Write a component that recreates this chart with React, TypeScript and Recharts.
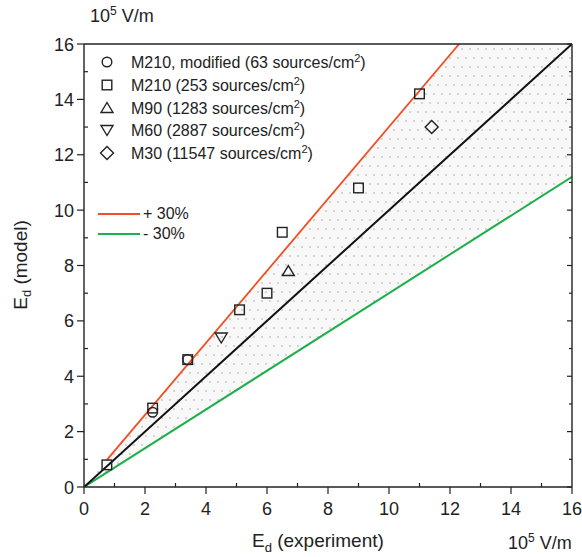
import React from 'react';
import { ComposedChart, XAxis, YAxis, Line, Area, Scatter } from 'recharts';

const allTicks = [0, 1, 2, 3, 4, 5, 6, 7, 8, 9, 10, 11, 12, 13, 14, 15, 16];

// measured points (10^5 V/m)
const m210ModX = [2.25, 3.4];
const m210ModY = [2.7, 4.6];
const m210X = [0.75, 2.25, 3.4, 5.1, 6.0, 6.5, 9.0, 11.0];
const m210Y = [0.8, 2.85, 4.6, 6.4, 7.0, 9.2, 10.8, 14.2];
const m90X = [6.7];
const m90Y = [7.8];
const m60X = [4.5];
const m60Y = [5.4];
const m30X = [11.4];
const m30Y = [13.0];

// guide lines
const identityX = [0, 16];
const identityY = [0, 16];
const plusX = [0.75, 12.3];
const plusY = [0.98, 16];
const minusX = [0, 16];
const minusY = [0, 11.2];

// shaded band between +30% and -30%
const shadeX = [0, 12.3, 16];
const shadeLow = [0, 8.6, 11.2];
const shadeHigh = [0, 16, 16];

const pts = (xs: number[], ys: number[]) => xs.map((x, i) => ({ x, y: ys[i] }));
const shadeData = shadeX.map((x, i) => ({ x, range: [shadeLow[i], shadeHigh[i]] }));

const INK = '#222';
const FONT = '"Liberation Sans", Arial, sans-serif';

// tick props x/y land on the axis line because tickSize and tickMargin are 0
const BottomTick = (props: any) => {
  const { x, y, payload } = props;
  const major = payload.value % 2 === 0;
  return (
    <g>
      <line x1={x} x2={x} y1={y} y2={major ? y + 7 : y - 4} stroke={INK} strokeWidth={1.2} />
      {major && (
        <text x={x} y={y + 28} textAnchor="middle" fontSize={18} fill={INK} fontFamily={FONT}>
          {payload.value}
        </text>
      )}
    </g>
  );
};

const LeftTick = (props: any) => {
  const { x, y, payload } = props;
  const major = payload.value % 2 === 0;
  return (
    <g>
      <line x1={major ? x - 7 : x} x2={major ? x : x + 4} y1={y} y2={y} stroke={INK} strokeWidth={1.2} />
      {major && (
        <text x={x - 10} y={y + 6.5} textAnchor="end" fontSize={18} fill={INK} fontFamily={FONT}>
          {payload.value}
        </text>
      )}
    </g>
  );
};

const TopTick = (props: any) => {
  const { x, y, payload } = props;
  const major = payload.value % 2 === 0;
  return <line x1={x} x2={x} y1={y} y2={y + (major ? 5 : 3)} stroke={INK} strokeWidth={1.2} />;
};

const RightTick = (props: any) => {
  const { x, y, payload } = props;
  const major = payload.value % 2 === 0;
  return <line x1={x} x2={x - (major ? 5 : 3)} y1={y} y2={y} stroke={INK} strokeWidth={1.2} />;
};

const symStyle = { fill: 'none', stroke: INK, strokeWidth: 1.4 };

const drawSym = (kind: string, cx: number, cy: number) => {
  switch (kind) {
    case 'circle':
      return <circle cx={cx} cy={cy} r={4.8} {...symStyle} />;
    case 'square':
      return <rect x={cx - 4.8} y={cy - 4.8} width={9.6} height={9.6} {...symStyle} />;
    case 'triangle':
      return <polygon points={`${cx},${cy - 5.5} ${cx + 6},${cy + 4.5} ${cx - 6},${cy + 4.5}`} {...symStyle} />;
    case 'down':
      return <polygon points={`${cx},${cy + 5.5} ${cx + 6},${cy - 4.5} ${cx - 6},${cy - 4.5}`} {...symStyle} />;
    default:
      return <polygon points={`${cx},${cy - 6.5} ${cx + 6.5},${cy} ${cx},${cy + 6.5} ${cx - 6.5},${cy}`} {...symStyle} />;
  }
};

const shapeOf = (kind: string) => (p: any) => <g>{drawSym(kind, p.cx, p.cy)}</g>;

const legendRows = [
  { kind: 'circle', name: 'M210, modified (63 sources/cm', y: 62 },
  { kind: 'square', name: 'M210 (253 sources/cm', y: 85 },
  { kind: 'triangle', name: 'M90 (1283 sources/cm', y: 108 },
  { kind: 'down', name: 'M60 (2887 sources/cm', y: 130 },
  { kind: 'diamond', name: 'M30 (11547 sources/cm', y: 153 },
];

const abs = (left: number, top: number, extra: React.CSSProperties = {}): React.CSSProperties => ({
  position: 'absolute',
  left,
  top,
  fontFamily: FONT,
  color: INK,
  whiteSpace: 'nowrap',
  lineHeight: 1,
  ...extra,
});

export default function App() {
  return (
    <div style={{ position: 'absolute', left: 0, top: 0, width: 582, height: 557, background: '#fff' }}>
      <ComposedChart width={582} height={557} margin={{ top: 43, right: 9, bottom: 40, left: 34 }}>
        <defs>
          <pattern id="dots" width="8" height="18" patternUnits="userSpaceOnUse">
            <rect width="8" height="18" fill="#f8f8f8" />
            <circle cx="2" cy="4" r="1.1" fill="#cdcdcd" />
            <circle cx="6" cy="13" r="1.1" fill="#cdcdcd" />
          </pattern>
        </defs>
        <XAxis
          dataKey="x"
          type="number"
          domain={[0, 16]}
          ticks={allTicks}
          interval={0}
          height={30}
          tickSize={0}
          tickMargin={0}
          tickLine={false}
          tick={<BottomTick />}
          axisLine={{ stroke: INK, strokeWidth: 1.4 }}
          allowDataOverflow
        />
        <YAxis
          dataKey="y"
          type="number"
          domain={[0, 16]}
          ticks={allTicks}
          interval={0}
          width={50}
          tickSize={0}
          tickMargin={0}
          tickLine={false}
          tick={<LeftTick />}
          axisLine={{ stroke: INK, strokeWidth: 1.4 }}
          allowDataOverflow
        />
        <XAxis
          xAxisId="top"
          orientation="top"
          type="number"
          domain={[0, 16]}
          ticks={allTicks}
          interval={0}
          height={1}
          tickSize={0}
          tickMargin={0}
          tickLine={false}
          tick={<TopTick />}
          axisLine={{ stroke: INK, strokeWidth: 1.4 }}
          allowDataOverflow
        />
        <YAxis
          yAxisId="right"
          orientation="right"
          type="number"
          domain={[0, 16]}
          ticks={allTicks}
          interval={0}
          width={1}
          tickSize={0}
          tickMargin={0}
          tickLine={false}
          tick={<RightTick />}
          axisLine={{ stroke: INK, strokeWidth: 1.4 }}
          allowDataOverflow
        />
        <Area data={shadeData} dataKey="range" type="linear" fill="url(#dots)" fillOpacity={1} stroke="none" isAnimationActive={false} />
        <Line data={pts(minusX, minusY)} dataKey="y" type="linear" stroke="#1daf4a" strokeWidth={2} dot={false} isAnimationActive={false} />
        <Line data={pts(identityX, identityY)} dataKey="y" type="linear" stroke="#111" strokeWidth={2} dot={false} isAnimationActive={false} />
        <Line data={pts(plusX, plusY)} dataKey="y" type="linear" stroke="#f04f24" strokeWidth={1.8} dot={false} isAnimationActive={false} />
        <Scatter data={pts(m210ModX, m210ModY)} dataKey="y" shape={shapeOf('circle')} isAnimationActive={false} />
        <Scatter data={pts(m210X, m210Y)} dataKey="y" shape={shapeOf('square')} isAnimationActive={false} />
        <Scatter data={pts(m90X, m90Y)} dataKey="y" shape={shapeOf('triangle')} isAnimationActive={false} />
        <Scatter data={pts(m60X, m60Y)} dataKey="y" shape={shapeOf('down')} isAnimationActive={false} />
        <Scatter data={pts(m30X, m30Y)} dataKey="y" shape={shapeOf('diamond')} isAnimationActive={false} />
      </ComposedChart>

      {legendRows.map((r) => (
        <React.Fragment key={r.name}>
          <svg style={{ position: 'absolute', left: 97, top: r.y - 10 }} width={20} height={20}>
            {drawSym(r.kind, 10, 10)}
          </svg>
          <div style={abs(131, r.y - 9, { fontSize: 16 })}>
            {r.name}
            <sup style={{ fontSize: 11 }}>2</sup>)
          </div>
        </React.Fragment>
      ))}
      <svg style={{ position: 'absolute', left: 96, top: 205 }} width={50} height={40}>
        <line x1={2} x2={44} y1={9} y2={9} stroke="#f04f24" strokeWidth={2} />
        <line x1={2} x2={44} y1={29} y2={29} stroke="#1daf4a" strokeWidth={2} />
      </svg>
      <div style={abs(143, 206, { fontSize: 16 })}>+ 30%</div>
      <div style={abs(143, 226, { fontSize: 16 })}>- 30%</div>

      <div style={abs(90, 5, { fontSize: 18 })}>
        10<sup style={{ fontSize: 12 }}>5</sup> V/m
      </div>
      <div style={abs(508, 532, { fontSize: 18 })}>
        10<sup style={{ fontSize: 12 }}>5</sup> V/m
      </div>
      <div style={abs(252, 531, { fontSize: 19 })}>
        E<sub style={{ fontSize: 13 }}>d</sub> (experiment)
      </div>
      <div style={abs(22, 265, { fontSize: 19, transform: 'translate(-50%, -50%) rotate(-90deg)' })}>
        E<sub style={{ fontSize: 13 }}>d</sub> (model)
      </div>
    </div>
  );
}
